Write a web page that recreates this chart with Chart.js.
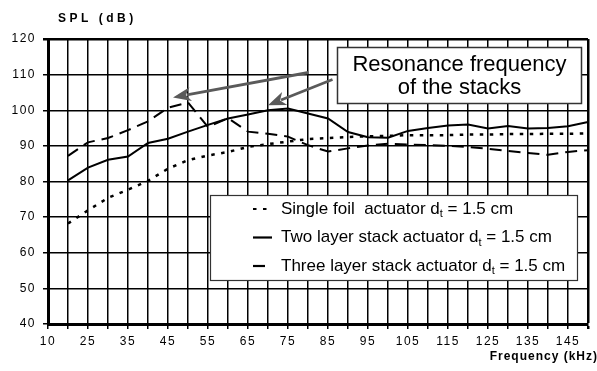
<!DOCTYPE html>
<html>
<head>
<meta charset="utf-8">
<script src="https://cdn.jsdelivr.net/npm/chart.js@4.4.1/dist/chart.umd.min.js"></script>
<style>
  html, body { margin: 0; padding: 0; background: #fff; }
  canvas { display: block; }
</style>
</head>
<body>
<canvas id="myChart" width="597" height="371"></canvas>
<script>

// frequency categories (kHz), first one only carries the "10" label
const freqs = [10, 20, 25, 30, 35, 40, 45, 50, 55, 60, 65, 70, 75, 80, 85,
  90, 95, 100, 105, 110, 115, 120, 125, 130, 135, 140, 145, 150];

// SPL in dB
const singleFoil = [null, 68.2, 71.9, 75.4, 77.7, 80.2, 83.6, 86.0, 87.3, 88.3, 89.7, 90.5, 91.2, 91.9,
  92.2, 92.5, 92.7, 92.8, 93.0, 93.0, 93.0, 93.2, 93.2, 93.3, 93.3, 93.4, 93.4, 93.5];
const twoLayer = [null, 80.3, 83.9, 86.1, 87.0, 90.8, 92.0, 94.0, 95.9, 97.7, 98.8, 100.0, 100.5, 99.1,
  97.7, 93.9, 92.4, 92.3, 94.2, 95.0, 95.7, 96.0, 94.9, 95.6, 94.9, 95.0, 95.5, 96.7];
const threeLayer = [null, 87.2, 91.0, 92.2, 94.4, 96.9, 100.7, 102.2, 95.3, 97.8, 94.0, 93.4, 92.6, 90.2,
  88.4, 89.3, 90.1, 90.6, 90.4, 90.2, 90.0, 89.7, 89.2, 88.6, 88.0, 87.5, 88.3, 88.8];

const seriesNames = [
  'Single foil  actuator d_t = 1.5 cm',
  'Two layer stack actuator d_t = 1.5 cm',
  'Three layer stack actuator d_t = 1.5 cm'
];
const yTitle = 'SPL (dB)';
const xTitle = 'Frequency (kHz)';
const noteLines = ['Resonance frequency', 'of the stacks'];
// where the arrows point: [category index, dB]
const notePeaks = [[6.25, 103.6], [11, 101.4]];

const FONT = '"Liberation Sans", Arial, sans-serif';

function arrow(ctx, x0, y0, x1, y1) {
  const a = Math.atan2(y1 - y0, x1 - x0), L = 18, W = 7;
  const bx = x1 - L * Math.cos(a), by = y1 - L * Math.sin(a);
  ctx.beginPath();
  ctx.moveTo(x0, y0);
  ctx.lineTo(bx + 4 * Math.cos(a), by + 4 * Math.sin(a));
  ctx.stroke();
  ctx.beginPath();
  ctx.moveTo(x1, y1);
  ctx.lineTo(bx + W * Math.sin(a), by - W * Math.cos(a));
  ctx.lineTo(bx + 5 * Math.cos(a), by + 5 * Math.sin(a));
  ctx.lineTo(bx - W * Math.sin(a), by + W * Math.cos(a));
  ctx.closePath();
  ctx.fill();
}

const extras = {
  id: 'extras',
  beforeDraw(chart) {
    chart.ctx.letterSpacing = '1.5px';
  },
  afterDraw(chart) {
    const ctx = chart.ctx;
    const xs = chart.scales.x, ys = chart.scales.y;
    ctx.save();
    ctx.fillStyle = '#000';

    // axis titles
    ctx.font = 'bold 12px ' + FONT;
    ctx.textBaseline = 'middle';
    ctx.letterSpacing = '3.5px';
    ctx.textAlign = 'left';
    ctx.fillText(yTitle, 58, 19);
    ctx.letterSpacing = '1px';
    ctx.textAlign = 'right';
    ctx.fillText(xTitle, 598, 357);
    ctx.letterSpacing = '0px';

    // annotation box
    const bx = 337.5, by = 47.5, bw = 244, bh = 56;
    ctx.fillStyle = '#fff';
    ctx.fillRect(bx, by, bw, bh);
    ctx.strokeStyle = '#333';
    ctx.lineWidth = 1.5;
    ctx.strokeRect(bx, by, bw, bh);
    ctx.fillStyle = '#000';
    ctx.font = '22px ' + FONT;
    ctx.textAlign = 'center';
    ctx.textBaseline = 'alphabetic';
    ctx.fillText(noteLines[0], bx + bw / 2, 71);
    ctx.fillText(noteLines[1], bx + bw / 2, 94);

    // arrows to the resonance peaks
    ctx.strokeStyle = '#5a5a5a';
    ctx.fillStyle = '#5a5a5a';
    ctx.lineWidth = 2.8;
    const tails = [[bx - 29, by + 25], [bx - 5, by + 32]];
    notePeaks.forEach((p, i) => {
      arrow(ctx, tails[i][0], tails[i][1], xs.getPixelForValue(p[0]), ys.getPixelForValue(p[1]));
    });

    // legend box
    const lx = 210.5, ly = 195.5, lw = 367, lh = 85;
    ctx.fillStyle = '#fff';
    ctx.fillRect(lx, ly, lw, lh);
    ctx.strokeStyle = '#333';
    ctx.lineWidth = 1.2;
    ctx.strokeRect(lx, ly, lw, lh);
    chart.data.datasets.forEach((ds, i) => {
      const yy = 209 + i * 28.5;
      ctx.strokeStyle = '#000';
      ctx.lineWidth = 2.2;
      ctx.setLineDash(ds.borderDash || []);
      ctx.beginPath();
      ctx.moveTo(253, yy);
      ctx.lineTo(272, yy);
      ctx.stroke();
      ctx.setLineDash([]);
      const [head, rest] = ds.label.split('_');
      ctx.fillStyle = '#000';
      ctx.textAlign = 'left';
      ctx.textBaseline = 'middle';
      ctx.font = '17px ' + FONT;
      let tx = 281;
      ctx.fillText(head, tx, yy);
      tx += ctx.measureText(head).width;
      ctx.font = '11px ' + FONT;
      ctx.fillText(rest.charAt(0), tx, yy + 5);
      tx += ctx.measureText(rest.charAt(0)).width;
      ctx.font = '17px ' + FONT;
      ctx.fillText(rest.slice(1), tx, yy);
    });
    ctx.restore();
  }
};

const tickFont = { family: FONT, size: 12 };

new Chart(document.getElementById('myChart'), {
  type: 'line',
  data: {
    labels: freqs,
    datasets: [
      { label: seriesNames[0], data: singleFoil, borderColor: '#000', borderWidth: 2.5,
        borderDash: [3.5, 6.5], pointRadius: 0, tension: 0 },
      { label: seriesNames[1], data: twoLayer, borderColor: '#000', borderWidth: 2,
        pointRadius: 0, tension: 0 },
      { label: seriesNames[2], data: threeLayer, borderColor: '#000', borderWidth: 2,
        borderDash: [12, 7], pointRadius: 0, tension: 0 }
    ]
  },
  options: {
    responsive: false,
    animation: false,
    devicePixelRatio: 1,
    layout: { padding: { top: 39, right: 9, bottom: 0, left: 0 } },
    plugins: { legend: { display: false }, tooltip: { enabled: false } },
    scales: {
      x: {
        offset: false,
        grid: {
          color: '#000',
          lineWidth: c => (c.index === freqs.length - 1 ? 2.5 : 1.5),
          tickLength: 5,
          offset: false
        },
        border: { color: '#000', width: 3 },
        ticks: {
          autoSkip: false, maxRotation: 0, minRotation: 0, padding: 5,
          color: '#000', font: tickFont,
          callback: (v, i) => (i % 2 === 0 ? String(freqs[i]) : '')
        },
        afterFit: s => { s.height = 47; }
      },
      y: {
        min: 40, max: 120,
        grid: {
          color: '#000',
          lineWidth: c => (c.tick && c.tick.value === 120 ? 2.5 : 1.5),
          tickLength: 5
        },
        border: { color: '#000', width: 3 },
        ticks: { stepSize: 10, padding: 7, color: '#000', font: tickFont },
        afterFit: s => { s.width = 48; }
      }
    }
  },
  plugins: [extras]
});
</script>
</body>
</html>
